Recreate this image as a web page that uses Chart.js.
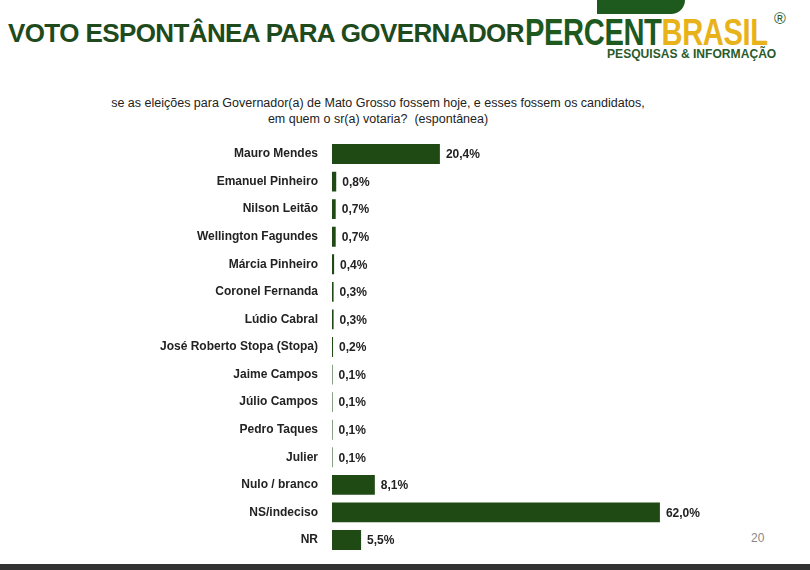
<!DOCTYPE html>
<html><head><meta charset="utf-8">
<script src="https://cdn.jsdelivr.net/npm/chart.js@4"></script>
<style>
body{margin:0;width:810px;height:570px;background:#fff;position:relative;overflow:hidden;font-family:"Liberation Sans",Arial,sans-serif}
#t{position:absolute;left:8px;top:18px;font-size:26px;font-weight:bold;color:#1e4a1c;letter-spacing:-0.6px}
#logo{position:absolute;left:525px;top:12px;font-family:"Liberation Sans Narrow","Liberation Sans",sans-serif;font-weight:bold;font-size:36px;color:#1e5a1e;letter-spacing:-0.5px;transform:scaleX(0.81);transform-origin:left}
#logo span{color:#e8b21a}
#reg{position:absolute;left:774px;top:10px;font-size:16px;color:#2a5a2a}
#pi{position:absolute;left:607px;top:46px;font-family:"Liberation Sans Narrow","Liberation Sans",sans-serif;font-weight:bold;font-size:13px;color:#2a5a2a;transform:scaleX(0.93);transform-origin:left}
#bar{position:absolute;left:597px;top:0;width:88px;height:14px;background:#1e5a1e;border-radius:0 0 20px 0}
#s{position:absolute;left:0;width:756px;top:95px;text-align:center;font-size:12.5px;color:#222;line-height:16px}
#pg{position:absolute;left:751px;top:531px;font-size:12px;color:#888}
#bot{position:absolute;left:0;top:564px;width:810px;height:6px;background:#333}
#c{position:absolute;left:0;top:127px}
</style></head><body>
<div id="bar"></div>
<div id="t">VOTO ESPONTÂNEA PARA GOVERNADOR</div>
<div id="logo">PERCENT<span>BRASIL</span></div>
<div id="reg">®</div>
<div id="pi">PESQUISAS &amp; INFORMAÇÃO</div>
<div id="s">se as eleições para Governador(a) de Mato Grosso fossem hoje, e esses fossem os candidatos,<br>em quem o sr(a) votaria?&nbsp; (espontânea)</div>
<div id="pg">20</div>
<div id="bot"></div>
<canvas id="c" width="810" height="440"></canvas>
<script>
const categories=["Mauro Mendes","Emanuel Pinheiro","Nilson Leitão","Wellington Fagundes","Márcia Pinheiro","Coronel Fernanda","Lúdio Cabral","José Roberto Stopa (Stopa)","Jaime Campos","Júlio Campos","Pedro Taques","Julier","Nulo / branco","NS/indeciso","NR"];
const values=[20.4,0.8,0.7,0.7,0.4,0.3,0.3,0.2,0.1,0.1,0.1,0.1,8.1,62.0,5.5];
const labelPlugin={id:'lbl',afterDatasetsDraw(ch){const ctx=ch.ctx;const m=ch.getDatasetMeta(0);ctx.save();ctx.font='bold 12px "Liberation Sans", Arial';ctx.fillStyle='#222';ctx.textBaseline='middle';m.data.forEach((b,i)=>{ctx.fillText(values[i].toFixed(1).replace('.',',')+'%',b.x+6,b.y+1);});ctx.restore();}};
new Chart(document.getElementById('c'),{type:'bar',data:{labels:categories,datasets:[{data:values,backgroundColor:'#1f4a14',barPercentage:0.72,categoryPercentage:1}]},
options:{indexAxis:'y',responsive:false,animation:false,devicePixelRatio:1,layout:{padding:{top:0,bottom:10,right:2,left:0}},
plugins:{legend:{display:false},tooltip:{enabled:false}},
scales:{x:{display:false,min:0,max:90},y:{afterFit(a){a.width=332;},grid:{display:false},border:{display:false},ticks:{color:'#222',font:{size:12,weight:'bold',family:'"Liberation Sans", Arial'},padding:6}}}},plugins:[labelPlugin]});
</script></body></html>
